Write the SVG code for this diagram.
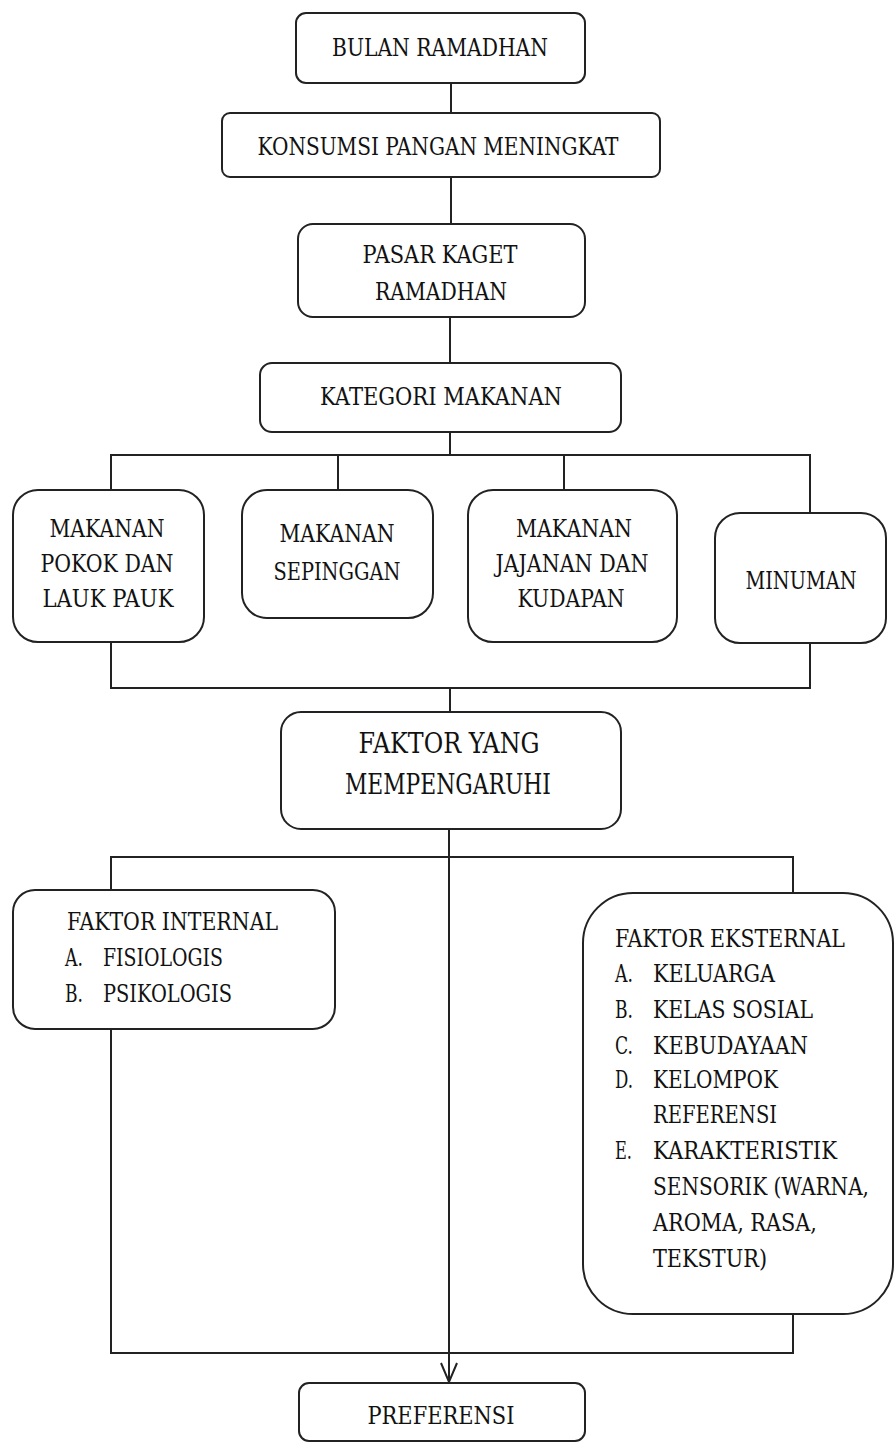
<svg xmlns="http://www.w3.org/2000/svg" width="895" height="1448" viewBox="0 0 895 1448">
<style>
.box{fill:#fff;stroke:#222;stroke-width:2}
.ln{fill:none;stroke:#222;stroke-width:2}
text{font-family:"DejaVu Serif","Liberation Serif",serif;font-size:25px;fill:#111}
.c{text-anchor:middle}
.big{font-size:28px}
</style>
<rect width="895" height="1448" fill="#fff"/>
<g id="connectors">
<path class="ln" d="M451 83V113M451 177V224M450 317V363M450 432V455"/>
<path class="ln" d="M111 490V455H810V513M338 455V490M564 455V490"/>
<path class="ln" d="M111 642V688H810V643M450 688V712"/>
<path class="ln" d="M449 829V1381"/>
<path class="ln" d="M441 1363L449 1382L457 1363"/>
<path class="ln" d="M111 890V857H793V893"/>
<path class="ln" d="M111 1029V1353H793V1314"/>
</g>
<g id="bulan"><rect class="box" x="296" y="13" width="289" height="70" rx="10"/>
<text class="c" x="440" y="56" textLength="216" lengthAdjust="spacingAndGlyphs">BULAN RAMADHAN</text></g>
<g id="konsumsi"><rect class="box" x="222" y="113" width="438" height="64" rx="8"/>
<text class="c" x="438" y="155" textLength="361" lengthAdjust="spacingAndGlyphs">KONSUMSI PANGAN MENINGKAT</text></g>
<g id="pasar"><rect class="box" x="298" y="224" width="287" height="93" rx="15"/>
<text class="c" x="440" y="263" textLength="155" lengthAdjust="spacingAndGlyphs">PASAR KAGET</text>
<text class="c" x="441" y="300" textLength="132" lengthAdjust="spacingAndGlyphs">RAMADHAN</text></g>
<g id="kategori"><rect class="box" x="260" y="363" width="361" height="69" rx="12"/>
<text class="c" x="441" y="405" textLength="242" lengthAdjust="spacingAndGlyphs">KATEGORI MAKANAN</text></g>
<g id="pokok"><rect class="box" x="13" y="490" width="191" height="152" rx="25"/>
<text class="c" x="107" y="537" textLength="115" lengthAdjust="spacingAndGlyphs">MAKANAN</text>
<text class="c" x="107" y="572" textLength="133" lengthAdjust="spacingAndGlyphs">POKOK DAN</text>
<text class="c" x="108" y="607" textLength="131" lengthAdjust="spacingAndGlyphs">LAUK PAUK</text></g>
<g id="sepinggan"><rect class="box" x="242" y="490" width="191" height="128" rx="25"/>
<text class="c" x="337" y="542" textLength="115" lengthAdjust="spacingAndGlyphs">MAKANAN</text>
<text class="c" x="337" y="580" textLength="127" lengthAdjust="spacingAndGlyphs">SEPINGGAN</text></g>
<g id="jajanan"><rect class="box" x="468" y="490" width="209" height="152" rx="25"/>
<text class="c" x="574" y="537" textLength="116" lengthAdjust="spacingAndGlyphs">MAKANAN</text>
<text class="c" x="572" y="572" textLength="153" lengthAdjust="spacingAndGlyphs">JAJANAN DAN</text>
<text class="c" x="571" y="607" textLength="107" lengthAdjust="spacingAndGlyphs">KUDAPAN</text></g>
<g id="minuman"><rect class="box" x="715" y="513" width="171" height="130" rx="25"/>
<text class="c" x="801" y="589" textLength="111" lengthAdjust="spacingAndGlyphs">MINUMAN</text></g>
<g id="faktor"><rect class="box" x="281" y="712" width="340" height="117" rx="20"/>
<text class="c big" x="449" y="753" textLength="181" lengthAdjust="spacingAndGlyphs">FAKTOR YANG</text>
<text class="c big" x="448" y="794" textLength="206" lengthAdjust="spacingAndGlyphs">MEMPENGARUHI</text></g>
<g id="internal"><rect class="box" x="13" y="890" width="322" height="139" rx="22"/>
<text x="67" y="930" textLength="211" lengthAdjust="spacingAndGlyphs">FAKTOR INTERNAL</text>
<text x="65" y="966" textLength="18" lengthAdjust="spacingAndGlyphs">A.</text>
<text x="103" y="966" textLength="120" lengthAdjust="spacingAndGlyphs">FISIOLOGIS</text>
<text x="65" y="1002" textLength="18" lengthAdjust="spacingAndGlyphs">B.</text>
<text x="103" y="1002" textLength="129" lengthAdjust="spacingAndGlyphs">PSIKOLOGIS</text></g>
<g id="eksternal"><rect class="box" x="583" y="893" width="310" height="421" rx="50"/>
<text x="615" y="947" textLength="230" lengthAdjust="spacingAndGlyphs">FAKTOR EKSTERNAL</text>
<text x="615" y="982" textLength="18" lengthAdjust="spacingAndGlyphs">A.</text>
<text x="653" y="982" textLength="122" lengthAdjust="spacingAndGlyphs">KELUARGA</text>
<text x="615" y="1018" textLength="18" lengthAdjust="spacingAndGlyphs">B.</text>
<text x="653" y="1018" textLength="160" lengthAdjust="spacingAndGlyphs">KELAS SOSIAL</text>
<text x="615" y="1054" textLength="18" lengthAdjust="spacingAndGlyphs">C.</text>
<text x="653" y="1054" textLength="155" lengthAdjust="spacingAndGlyphs">KEBUDAYAAN</text>
<text x="615" y="1088" textLength="18" lengthAdjust="spacingAndGlyphs">D.</text>
<text x="653" y="1088" textLength="125" lengthAdjust="spacingAndGlyphs">KELOMPOK</text>
<text x="653" y="1123" textLength="124" lengthAdjust="spacingAndGlyphs">REFERENSI</text>
<text x="615" y="1159" textLength="17" lengthAdjust="spacingAndGlyphs">E.</text>
<text x="653" y="1159" textLength="184" lengthAdjust="spacingAndGlyphs">KARAKTERISTIK</text>
<text x="653" y="1195" textLength="216" lengthAdjust="spacingAndGlyphs">SENSORIK (WARNA,</text>
<text x="653" y="1231" textLength="164" lengthAdjust="spacingAndGlyphs">AROMA, RASA,</text>
<text x="653" y="1267" textLength="114" lengthAdjust="spacingAndGlyphs">TEKSTUR)</text></g>
<g id="preferensi"><rect class="box" x="299" y="1383" width="286" height="58" rx="10"/>
<text class="c" x="441" y="1424" textLength="147" lengthAdjust="spacingAndGlyphs">PREFERENSI</text></g>
</svg>
